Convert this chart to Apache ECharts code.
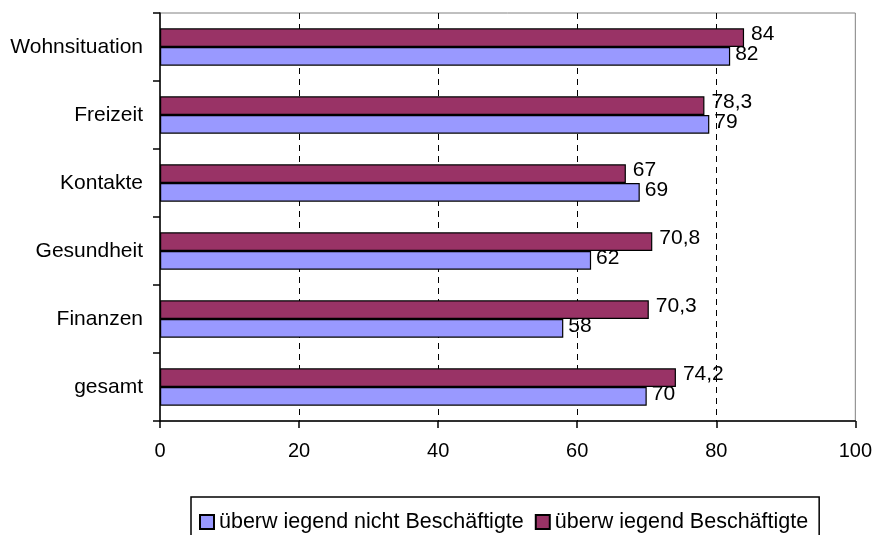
<!DOCTYPE html>
<html>
<head>
<meta charset="utf-8">
<script src="https://cdn.jsdelivr.net/npm/echarts@6/dist/echarts.min.js"></script>
<style>
html,body{margin:0;padding:0;background:#fff;}
#chart{width:875px;height:535px;}
</style>
</head>
<body>
<div id="chart"></div>
<script>
// Data
var categories = ['Wohnsituation', 'Freizeit', 'Kontakte', 'Gesundheit', 'Finanzen', 'gesamt'];
var nichtBeschaeftigte = [82, 79, 69, 62, 58, 70];
var beschaeftigte = [84, 78.3, 67, 70.8, 70.3, 74.2];
var seriesNames = ['überw iegend nicht Beschäftigte', 'überw iegend Beschäftigte'];
var xTicks = [0, 20, 40, 60, 80, 100];

var FONT = '"Liberation Sans", Arial, sans-serif';
function fmt(p) { return String(p.value).replace('.', ','); }

var chart = echarts.init(document.getElementById('chart'), null, {renderer: 'canvas'});
chart.setOption({
  animation: false,
  backgroundColor: '#ffffff',
  textStyle: {fontFamily: FONT, color: '#000'},
  grid: {
    left: 160, right: 19, top: 13, bottom: 114,
    show: true, borderColor: '#808080', borderWidth: 1, backgroundColor: 'transparent'
  },
  legend: {
    data: [seriesNames[0], seriesNames[1]],
    left: 191, top: 497,
    orient: 'horizontal',
    padding: [14, 11, 20, 8],
    itemGap: 11,
    itemWidth: 14, itemHeight: 14,
    icon: 'rect',
    borderColor: '#000', borderWidth: 1.5,
    textStyle: {fontFamily: FONT, fontSize: 21.5, color: '#000'}
  },
  xAxis: {
    type: 'value',
    min: xTicks[0], max: xTicks[xTicks.length - 1], interval: 20,
    axisLine: {show: true, onZero: false, lineStyle: {color: '#000', width: 1.5}},
    axisTick: {show: true, inside: false, length: 7, lineStyle: {color: '#000', width: 1.5}},
    axisLabel: {margin: 20, fontFamily: FONT, fontSize: 20, color: '#000'},
    splitLine: {show: true, showMinLine: false, showMaxLine: false, lineStyle: {color: '#000', type: [6, 5], width: 1}}
  },
  yAxis: {
    type: 'category',
    data: categories,
    inverse: true,
    axisLine: {show: true, lineStyle: {color: '#000', width: 1.5}},
    axisTick: {show: true, inside: false, length: 7, alignWithLabel: false, lineStyle: {color: '#000', width: 1.5}},
    axisLabel: {margin: 17, fontFamily: FONT, fontSize: 21, color: '#000'},
    splitLine: {show: false}
  },
  series: [
    {
      name: seriesNames[1],
      type: 'bar',
      data: beschaeftigte,
      barGap: '0%',
      barCategoryGap: '45%',
      itemStyle: {color: '#993366', borderColor: '#000', borderWidth: 1.2},
      label: {show: true, position: 'right', distance: 7, offset: [0, -3], formatter: fmt,
        fontFamily: FONT, fontSize: 21, color: '#000'}
    },
    {
      name: seriesNames[0],
      type: 'bar',
      data: nichtBeschaeftigte,
      barGap: '0%',
      barCategoryGap: '45%',
      itemStyle: {color: '#9999FF', borderColor: '#000', borderWidth: 1.2},
      label: {show: true, position: 'right', distance: 5, offset: [0, -2], formatter: fmt,
        fontFamily: FONT, fontSize: 21, color: '#000'}
    }
  ]
});
</script>
</body>
</html>
